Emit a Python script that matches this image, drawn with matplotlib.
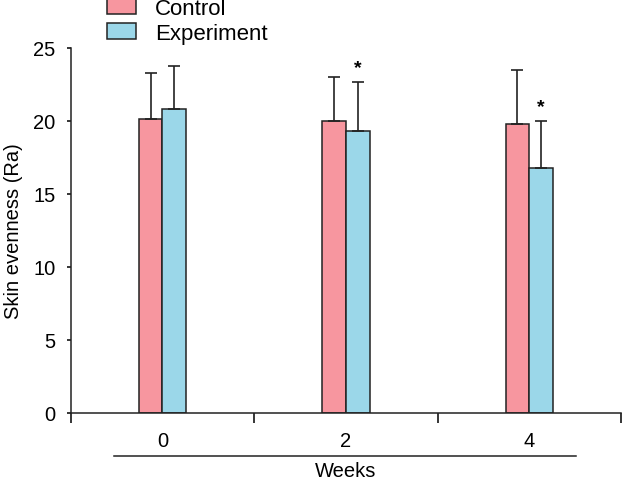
import numpy as np
import matplotlib.pyplot as plt
import matplotlib.transforms as mtransforms

plt.rcParams['font.family'] = ['Liberation Sans', 'DejaVu Sans']

weeks = ["0", "2", "4"]
control_mean = [20.1, 20.0, 19.8]
control_sd = [3.2, 3.0, 3.7]
experiment_mean = [20.8, 19.3, 16.8]
experiment_sd = [2.95, 3.4, 3.2]
significant = [False, True, True]

pink = "#F7969F"
blue = "#9BD7E9"
edge = "#222222"
fs = 14.5

fig = plt.figure(figsize=(6.22, 4.81), dpi=100)
ax = fig.add_axes([70.7 / 622, 1 - 413.5 / 481, (621 - 70.7) / 622, (413.5 - 49) / 481])

x = np.arange(len(weeks))
w = 0.129

err_kw = dict(ecolor=edge, elinewidth=1.2, capsize=4, capthick=1.2)
ax.bar(x - w / 2, control_mean, w, color=pink, edgecolor=edge, linewidth=1.1,
       yerr=[np.zeros(3), control_sd], error_kw=err_kw, label="Control")
ax.bar(x + w / 2, experiment_mean, w, color=blue, edgecolor=edge, linewidth=1.1,
       yerr=[np.zeros(3), experiment_sd], error_kw=err_kw, label="Experiment")

for i, sig in enumerate(significant):
    if sig:
        top = experiment_mean[i] + experiment_sd[i]
        ax.text(x[i] + w / 2, top + 0.4, "*", ha="center", va="bottom",
                fontsize=14, fontweight="bold")

ax.set_xlim(-0.5, 2.5)
ax.set_ylim(0, 25)
ax.set_yticks([0, 5, 10, 15, 20, 25])
ax.set_xticks([-0.5, 0.5, 1.5, 2.5])
ax.set_xticklabels([])
ax.set_xticks(x, minor=True)
ax.set_xticklabels(weeks, minor=True)
ax.tick_params(axis="x", which="major", direction="out", length=7, width=1.1)
ax.tick_params(axis="x", which="minor", length=0, pad=13, labelsize=fs)
ax.tick_params(axis="y", direction="out", length=3, width=1.1, pad=8, labelsize=fs)

for side in ["top", "right"]:
    ax.spines[side].set_visible(False)
for side in ["left", "bottom"]:
    ax.spines[side].set_linewidth(1.1)
    ax.spines[side].set_color(edge)

ax.set_ylabel("Skin evenness (Ra)", fontsize=fs, labelpad=7)

trans = mtransforms.blended_transform_factory(ax.transData, ax.transAxes)
ax.plot([1 - 1.265, 1 + 1.255], [-0.12, -0.12], color=edge, lw=1.1,
        transform=trans, clip_on=False)
ax.text(1, -0.158, "Weeks", ha="center", va="center", fontsize=fs, transform=trans)

fig.legend(loc="upper left", bbox_to_anchor=(107 / 622, 1.003), frameon=False,
           fontsize=16, handlelength=1.3, handleheight=0.75, handletextpad=0.85,
           labelspacing=0.2, borderpad=0, borderaxespad=0)

fig.savefig("out.png", dpi=100)
